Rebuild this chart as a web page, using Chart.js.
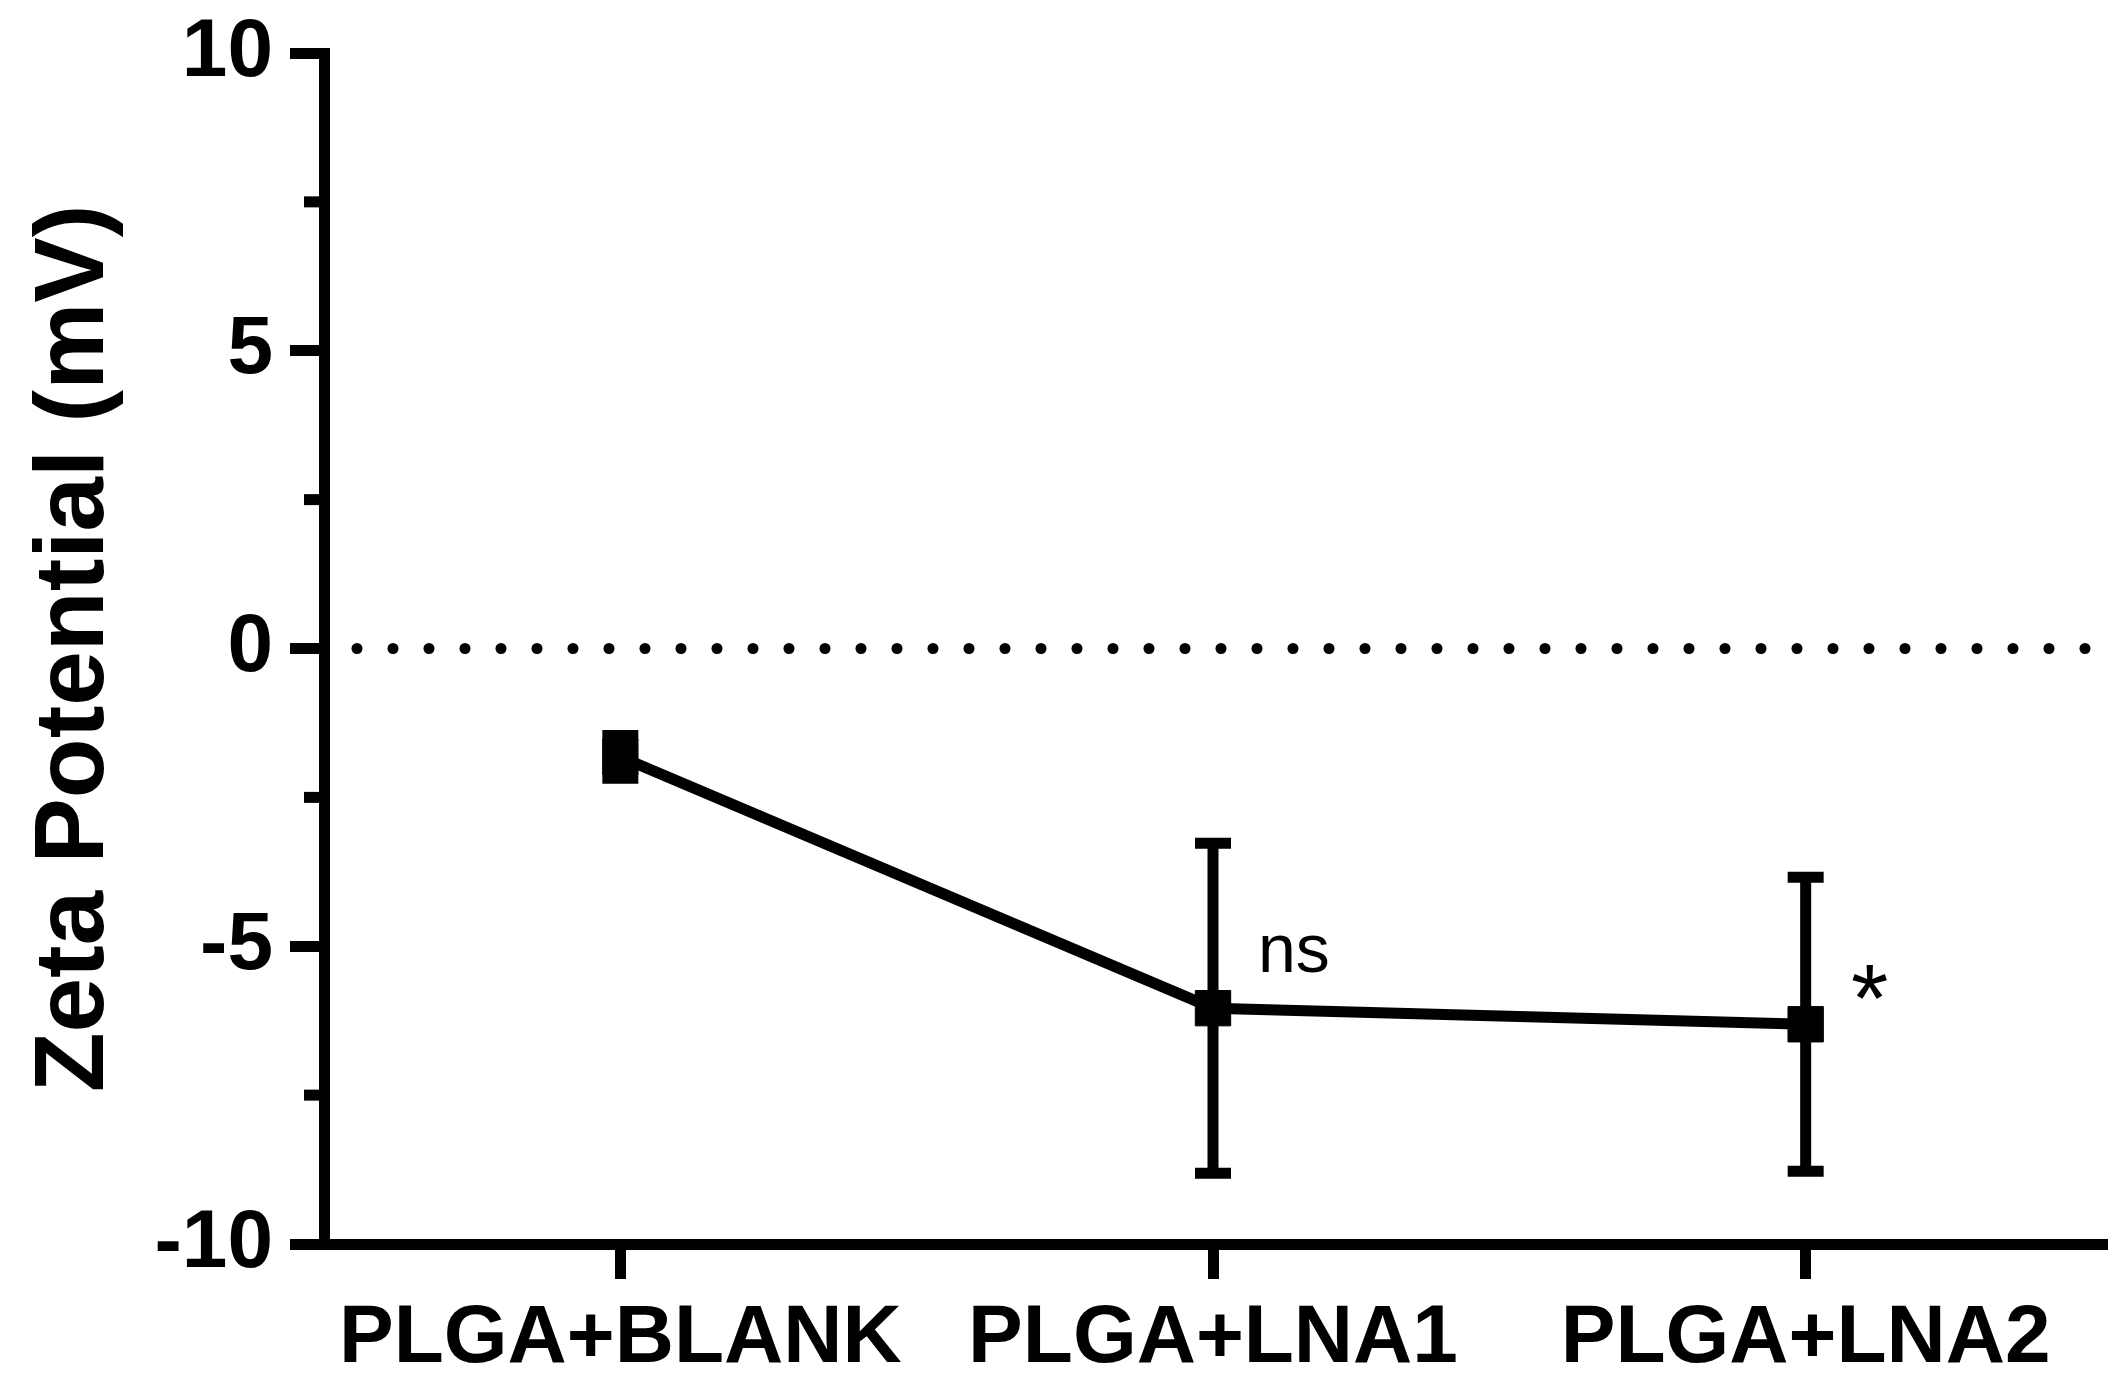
<!DOCTYPE html>
<html>
<head>
<meta charset="utf-8">
<script src="https://cdn.jsdelivr.net/npm/chart.js@4"></script>
<style>
  html, body { margin: 0; padding: 0; background: #ffffff; }
  #wrap { width: 2128px; height: 1388px; position: relative; }
</style>
</head>
<body>
<div id="wrap"><canvas id="c"></canvas></div>
<script>
// ---- data ----
const categories = ['PLGA+BLANK', 'PLGA+LNA1', 'PLGA+LNA2'];
const zetaMean = [-1.82, -6.04, -6.31];
const zetaSD = [0.36, 2.77, 2.47];
const significance = ['', 'ns', '*'];
const yMajorTicks = [-10, -5, 0, 5, 10];
const yMinorTicks = [-7.5, -2.5, 2.5, 7.5];
const yTitle = 'Zeta Potential (mV)';

const FONT = '"Liberation Sans", Arial, Helvetica, sans-serif';
const LW = 11;

Chart.defaults.color = '#000';
Chart.defaults.font.family = FONT;

const extras = {
  id: 'extras',
  beforeDatasetsDraw(chart) {
    const ctx = chart.ctx;
    const ys = chart.scales.y;
    const area = chart.chartArea;
    ctx.save();
    ctx.fillStyle = '#000';
    ctx.strokeStyle = '#000';
    // dotted zero line
    const y0 = ys.getPixelForValue(0);
    for (let x = area.left + 33; x <= area.right; x += 36) {
      ctx.beginPath();
      ctx.arc(x, y0, 5.5, 0, Math.PI * 2);
      ctx.fill();
    }
    // minor ticks
    ctx.lineWidth = LW;
    ctx.lineCap = 'butt';
    yMinorTicks.forEach(v => {
      const y = ys.getPixelForValue(v);
      ctx.beginPath();
      ctx.moveTo(area.left - 20, y);
      ctx.lineTo(area.left, y);
      ctx.stroke();
    });
    // error bars
    const meta = chart.getDatasetMeta(0);
    meta.data.forEach((pt, i) => {
      const x = pt.x;
      const yt = ys.getPixelForValue(zetaMean[i] + zetaSD[i]);
      const yb = ys.getPixelForValue(zetaMean[i] - zetaSD[i]);
      ctx.beginPath();
      ctx.moveTo(x, yt); ctx.lineTo(x, yb);
      ctx.moveTo(x - 18, yt); ctx.lineTo(x + 18, yt);
      ctx.moveTo(x - 18, yb); ctx.lineTo(x + 18, yb);
      ctx.stroke();
    });
    ctx.restore();
  },
  afterDatasetsDraw(chart) {
    const ctx = chart.ctx;
    const meta = chart.getDatasetMeta(0);
    ctx.save();
    ctx.fillStyle = '#000';
    meta.data.forEach((pt, i) => {
      const s = significance[i];
      if (!s) return;
      if (s === '*') {
        ctx.font = '400 96px ' + FONT;
        ctx.textAlign = 'center';
        ctx.textBaseline = 'alphabetic';
        ctx.fillText(s, pt.x + 64, pt.y + 7);
      } else {
        ctx.font = '400 68px ' + FONT;
        ctx.textAlign = 'left';
        ctx.textBaseline = 'alphabetic';
        ctx.fillText(s, pt.x + 45, pt.y - 36);
      }
    });
    ctx.restore();
  }
};

new Chart(document.getElementById('c'), {
  type: 'line',
  data: {
    labels: categories,
    datasets: [{
      data: zetaMean,
      borderColor: '#000',
      borderWidth: LW,
      backgroundColor: '#000',
      pointStyle: 'rect',
      pointRadius: 25,
      pointHoverRadius: 25,
      pointBackgroundColor: '#000',
      pointBorderColor: '#000',
      pointBorderWidth: 1,
      tension: 0,
      clip: false
    }]
  },
  options: {
    responsive: true,
    maintainAspectRatio: false,
    devicePixelRatio: 1,
    animation: false,
    events: [],
    layout: { padding: { top: 53, right: 13, bottom: 0, left: 0 } },
    plugins: { legend: { display: false }, tooltip: { enabled: false } },
    scales: {
      x: {
        type: 'category',
        offset: true,
        afterFit: s => { s.height = 144; s.paddingLeft = 0; s.paddingRight = 0; },
        grid: { offset: false, drawOnChartArea: false, drawTicks: true, tickLength: 35, tickWidth: LW, tickColor: '#000', lineWidth: LW, color: '#000' },
        border: { display: true, color: '#000', width: LW },
        ticks: { padding: 11, color: '#000', font: { family: FONT, size: 82, weight: 'bold' }, maxRotation: 0, autoSkip: false }
      },
      y: {
        min: -10,
        max: 10,
        afterFit: s => { s.width = 324; s.paddingTop = 0; s.paddingBottom = 0; },
        afterBuildTicks: s => { s.ticks = yMajorTicks.map(v => ({ value: v })); },
        grid: { drawOnChartArea: false, drawTicks: true, tickLength: 34, tickWidth: LW, tickColor: '#000', lineWidth: LW, color: '#000' },
        border: { display: true, color: '#000', width: LW },
        ticks: { padding: 17, color: '#000', font: { family: FONT, size: 82, weight: 'bold' }, callback: v => String(v) },
        title: { display: true, text: yTitle, color: '#000', font: { family: FONT, size: 98, weight: 'bold' }, padding: { top: 17, bottom: 0 } }
      }
    }
  },
  plugins: [extras]
});
</script>
</body>
</html>
